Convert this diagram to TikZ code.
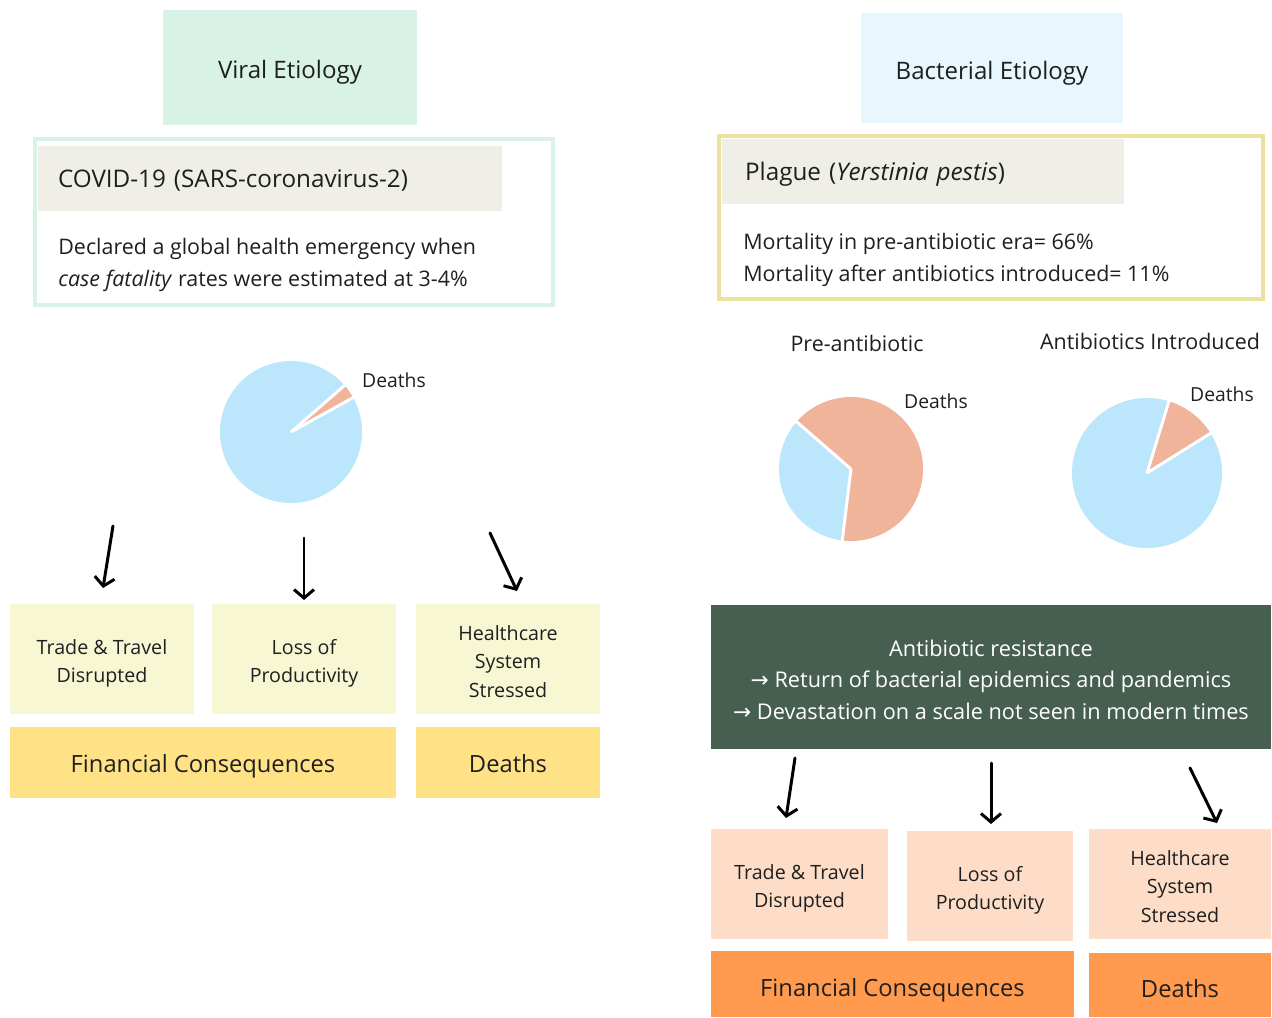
\documentclass[tikz,border=0pt]{standalone}
\usepackage{fontspec}
\setmainfont{Open Sans}
\newfontfamily\arrfont{DejaVu Sans}
\usetikzlibrary{positioning,arrows.meta}
\definecolor{cMint}{RGB}{217,242,230}
\definecolor{cIce}{RGB}{232,246,253}
\definecolor{cSand}{RGB}{237,226,155}
\definecolor{cPaper}{RGB}{239,239,231}
\definecolor{cLemon}{RGB}{247,247,212}
\definecolor{cGold}{RGB}{255,226,133}
\definecolor{cMoss}{RGB}{70,95,81}
\definecolor{cPeach}{RGB}{253,221,200}
\definecolor{cOrange}{RGB}{255,154,79}
\definecolor{cSky}{RGB}{187,230,251}
\definecolor{cSalmon}{RGB}{240,180,154}

\begin{document}
\begin{tikzpicture}[x=0.02cm,y=-0.02cm,font=\fontsize{12.2}{18}\selectfont,text=black!88]
\tikzset{
 t/.style={minimum height=2.2cm,inner sep=0,text height=16pt,text depth=3.3pt,font=\fontsize{13.7}{16}\selectfont},
 hd/.style={fill=cPaper,minimum height=1.3cm,align=left,inner ysep=0,text height=14pt,text depth=3.4pt,font=\fontsize{13.8}{16}\selectfont},
 b/.style={minimum height=2.2cm,inner sep=0,text width=3.2cm,align=flush center,font=\fontsize{11.2}{16}\selectfont,
  execute at begin node={\rule{0pt}{14.7pt}},execute at end node={\rule[-3.4pt]{0pt}{0pt}}},
 f/.style={inner sep=0,text height=15pt,text depth=3.3pt,font=\fontsize{13.5}{16}\selectfont},
 lb/.style={inner sep=0,font=\fontsize{11}{13}\selectfont},
 ar/.style={-{Straight Barb[length=1.7mm,width=4mm]},line width=1.7pt,line cap=round},
 gap/.style={white,line width=1.7pt}
}
\useasboundingbox (0,0) rectangle (1272,1018);

% viral side
\node[t,fill=cMint,minimum width=5.08cm,minimum height=2.3cm] (vt) at (290,67.5) {Viral Etiology};
\node[draw=cMint,line width=2.2pt,minimum width=10.36cm,minimum height=3.32cm] (vfr) at (294,222) {};
\node[hd,minimum width=9.28cm,inner xsep=0.4cm,text width=8.48cm] (vhd) at (270,178.5) {COVID-19 (SARS-coronavirus-2)};
\node[anchor=west,align=left,inner sep=0] (vtx) at (58,265) {Declared a global health emergency when\\\textit{case fatality} rates were estimated at 3-4\%};

\coordinate (pv) at (291,432);
\fill[cSky] (pv) -- ++(-41:71) arc[start angle=-41,end angle=-389,radius=71] -- cycle;
\fill[cSalmon] (pv) -- ++(-29:71) arc[start angle=-29,end angle=-41,radius=71] -- cycle;
\draw[gap] (pv) -- ++(-29:73); \draw[gap] (pv) -- ++(-41:73);
\node[lb] (vdl) at (394,380) {Deaths};

\coordinate (v1s) at (113,526); \coordinate (v1e) at (103,588);
\coordinate (v2s) at (304,538); \coordinate (v2e) at (304,600);
\coordinate (v3s) at (490,533); \coordinate (v3e) at (517,591);
\draw[ar] (v1s)--(v1e); \draw[ar] (v2s)--(v2e); \draw[ar] (v3s)--(v3e);

\node[b,fill=cLemon,minimum width=3.68cm] (vb1) at (102,659) {Trade \& Travel\\Disrupted};
\node[b,fill=cLemon,minimum width=3.68cm] (vb2) at (304,659) {Loss of\\Productivity};
\node[b,fill=cLemon,minimum width=3.68cm] (vb3) at (508,659) {Healthcare\\System\\Stressed};
\node[f,fill=cGold,minimum width=7.72cm,minimum height=1.42cm] (vfc) at (203,762.5) {Financial Consequences};
\node[f,fill=cGold,minimum width=3.68cm,minimum height=1.42cm] (vde) at (508,762.5) {Deaths};

% bacterial side
\node[t,fill=cIce,minimum width=5.24cm] (bt) at (992,68) {Bacterial Etiology};
\node[draw=cSand,line width=2.6pt,minimum width=10.88cm,minimum height=3.26cm] (bfr) at (991,217.5) {};
\node[hd,minimum width=8.04cm,inner xsep=0.46cm,text width=7.12cm] (bhd) at (923,171.5) {Plague (\textit{Yerstinia pestis})};
\node[anchor=west,align=left,inner sep=0] (btx) at (743,260) {Mortality in pre-antibiotic era= 66\%\\Mortality after antibiotics introduced= 11\%};

\node[inner sep=0] (pret) at (857,343) {Pre-antibiotic};
\node[inner sep=0] (post) at (1150,341) {Antibiotics Introduced};

\coordinate (pa) at (851,469);
\fill[cSalmon] (pa) -- ++(97:72) arc[start angle=97,end angle=-139,radius=72] -- cycle;
\fill[cSky] (pa) -- ++(-139:72) arc[start angle=-139,end angle=-263,radius=72] -- cycle;
\draw[gap] (pa) -- ++(97:74); \draw[gap] (pa) -- ++(-139:74);
\node[lb] (adl) at (936,401) {Deaths};

\coordinate (pb) at (1147,473);
\fill[cSky] (pb) -- ++(-73:75) arc[start angle=-73,end angle=-392,radius=75] -- cycle;
\fill[cSalmon] (pb) -- ++(-32:75) arc[start angle=-32,end angle=-73,radius=75] -- cycle;
\draw[gap] (pb) -- ++(-32:77); \draw[gap] (pb) -- ++(-73:77);
\node[lb] (bdl) at (1222,394) {Deaths};

\node[fill=cMoss,text=white,text width=10.8cm,align=flush center,minimum width=11.2cm,minimum height=2.88cm,inner sep=0,font=\fontsize{12.35}{18}\selectfont,
 execute at begin node={\rule{0pt}{12.3pt}}] (res) at (991,677)
 {Antibiotic resistance\\{\arrfont →} Return of bacterial epidemics and pandemics\\{\arrfont →} Devastation on a scale not seen in modern times};

\coordinate (b1s) at (795,758); \coordinate (b1e) at (786,818);
\coordinate (b2s) at (991,763); \coordinate (b2e) at (991,824);
\coordinate (b3s) at (1190,768); \coordinate (b3e) at (1217,823);
\draw[ar] (b1s)--(b1e); \draw[ar] (b2s)--(b2e); \draw[ar] (b3s)--(b3e);

\node[b,fill=cPeach,minimum width=3.54cm] (bb1) at (799.5,884) {Trade \& Travel\\Disrupted};
\node[b,fill=cPeach,minimum width=3.32cm] (bb2) at (990,886) {Loss of\\Productivity};
\node[b,fill=cPeach,minimum width=3.64cm] (bb3) at (1180,884) {Healthcare\\System\\Stressed};
\node[f,fill=cOrange,minimum width=7.26cm,minimum height=1.32cm,text height=18pt] (bfc) at (892.5,984) {Financial Consequences};
\node[f,fill=cOrange,minimum width=3.64cm,minimum height=1.28cm,text height=18pt] (bde) at (1180,985) {Deaths};
\end{tikzpicture}
\end{document}
